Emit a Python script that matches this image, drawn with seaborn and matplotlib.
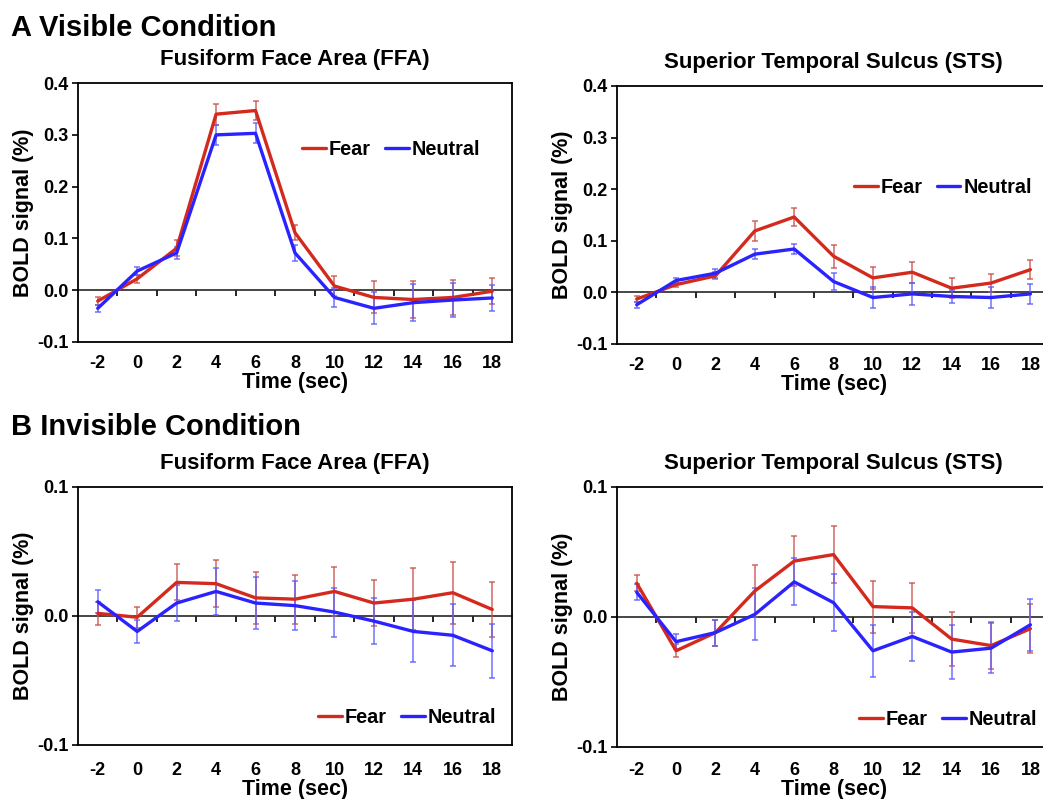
import matplotlib
matplotlib.use('Agg')

import matplotlib.pyplot as plt
import pandas as pd
import seaborn as sns

sns.set_style('white')
plt.rcParams['font.family'] = ['Liberation Sans', 'DejaVu Sans']
plt.rcParams['font.weight'] = 'bold'
plt.rcParams['axes.unicode_minus'] = False
plt.rcParams['text.color'] = 'black'
plt.rcParams['axes.labelcolor'] = 'black'
plt.rcParams['xtick.color'] = 'black'
plt.rcParams['ytick.color'] = 'black'

time = [-2, 0, 2, 4, 6, 8, 10, 12, 14, 16, 18]
conditions = ['Fear', 'Neutral']

# Visible condition, FFA
vis_ffa_fear = [-0.021, 0.022, 0.081, 0.340, 0.347, 0.111, 0.008, -0.014, -0.018, -0.014, -0.002]
vis_ffa_fear_err = [0.008, 0.008, 0.015, 0.020, 0.018, 0.015, 0.020, 0.031, 0.036, 0.033, 0.025]
vis_ffa_neut = [-0.035, 0.037, 0.072, 0.300, 0.303, 0.072, -0.014, -0.035, -0.024, -0.019, -0.015]
vis_ffa_neut_err = [0.007, 0.007, 0.012, 0.019, 0.019, 0.015, 0.019, 0.031, 0.036, 0.032, 0.025]

# Visible condition, STS
vis_sts_fear = [-0.013, 0.015, 0.032, 0.119, 0.146, 0.070, 0.028, 0.039, 0.008, 0.018, 0.044]
vis_sts_fear_err = [0.006, 0.005, 0.007, 0.020, 0.018, 0.022, 0.021, 0.020, 0.019, 0.017, 0.019]
vis_sts_neut = [-0.024, 0.023, 0.037, 0.074, 0.084, 0.021, -0.010, -0.003, -0.008, -0.010, -0.003]
vis_sts_neut_err = [0.006, 0.005, 0.009, 0.010, 0.010, 0.017, 0.020, 0.021, 0.012, 0.020, 0.020]

# Invisible condition, FFA
inv_ffa_fear = [0.002, -0.001, 0.026, 0.025, 0.014, 0.013, 0.019, 0.010, 0.013, 0.018, 0.005]
inv_ffa_fear_err = [0.009, 0.008, 0.014, 0.018, 0.020, 0.019, 0.019, 0.018, 0.024, 0.024, 0.021]
inv_ffa_neut = [0.011, -0.012, 0.010, 0.019, 0.010, 0.008, 0.003, -0.004, -0.012, -0.015, -0.027]
inv_ffa_neut_err = [0.009, 0.009, 0.014, 0.018, 0.020, 0.019, 0.019, 0.018, 0.024, 0.024, 0.021]

# Invisible condition, STS
inv_sts_fear = [0.026, -0.026, -0.012, 0.020, 0.043, 0.048, 0.008, 0.007, -0.017, -0.022, -0.009]
inv_sts_fear_err = [0.006, 0.005, 0.010, 0.020, 0.019, 0.022, 0.020, 0.019, 0.021, 0.018, 0.019]
inv_sts_neut = [0.019, -0.019, -0.012, 0.002, 0.027, 0.011, -0.026, -0.015, -0.027, -0.024, -0.006]
inv_sts_neut_err = [0.006, 0.006, 0.010, 0.020, 0.018, 0.022, 0.020, 0.019, 0.021, 0.019, 0.020]

line_colors = {'Fear': '#d42a1e', 'Neutral': '#2a22ff'}
err_colors = {'Fear': '#c8504a', 'Neutral': '#5a5aff'}

fig = plt.figure(figsize=(10.43, 7.99), dpi=100)

panels = [
    ([0.0748, 0.572, 0.4161, 0.324], 'Fusiform Face Area (FFA)',
     (vis_ffa_fear, vis_ffa_fear_err, vis_ffa_neut, vis_ffa_neut_err),
     (-0.1, 0.4), [-0.1, 0.0, 0.1, 0.2, 0.3, 0.4], (0.516, 0.745), 9.2, 0.5),
    ([0.5916, 0.5695, 0.4152, 0.323], 'Superior Temporal Sulcus (STS)',
     (vis_sts_fear, vis_sts_fear_err, vis_sts_neut, vis_sts_neut_err),
     (-0.1, 0.4), [-0.1, 0.0, 0.1, 0.2, 0.3, 0.4], (0.547, 0.605), 9.2, 0.5),
    ([0.0748, 0.0676, 0.4161, 0.323], 'Fusiform Face Area (FFA)',
     (inv_ffa_fear, inv_ffa_fear_err, inv_ffa_neut, inv_ffa_neut_err),
     (-0.1, 0.1), [-0.1, 0.0, 0.1], (0.553, 0.105), 12, 0),
    ([0.5916, 0.0651, 0.4152, 0.3254], 'Superior Temporal Sulcus (STS)',
     (inv_sts_fear, inv_sts_fear_err, inv_sts_neut, inv_sts_neut_err),
     (-0.1, 0.1), [-0.1, 0.0, 0.1], (0.559, 0.104), 11, 0),
]

for rect, title, series, ylim, yticks, leg_pos, xpad, xlabpad in panels:
    ax = fig.add_axes(rect)
    fear, fear_err, neut, neut_err = series
    df = pd.DataFrame({
        'Time': time * 2,
        'BOLD': fear + neut,
        'err': fear_err + neut_err,
        'Condition': ['Fear'] * len(time) + ['Neutral'] * len(time),
    })
    for cond in conditions:
        sub = df[df['Condition'] == cond]
        ax.errorbar(sub['Time'], sub['BOLD'], yerr=sub['err'], fmt='none',
                    ecolor=err_colors[cond], elinewidth=1.1, capsize=2.5,
                    capthick=1.1, alpha=0.85, zorder=2)
    sns.lineplot(data=df, x='Time', y='BOLD', hue='Condition', palette=line_colors,
                 linewidth=2.4, ax=ax, zorder=3, legend=False)

    ax.set_xlim(-3, 19)
    ax.set_ylim(*ylim)
    ax.set_xticks(time)
    ax.set_xticklabels([str(t) for t in time])
    ax.set_yticks(yticks)
    ax.set_yticklabels(['%.1f' % v for v in yticks])
    ax.tick_params(axis='x', length=0, pad=xpad, labelsize=13)
    ax.tick_params(axis='y', direction='out', length=4, width=1.2, left=True, pad=3, labelsize=13)
    for sp in ax.spines.values():
        sp.set_linewidth(1.3)
        sp.set_color('black')

    # zero line with category-boundary ticks
    frac = (0 - ylim[0]) / (ylim[1] - ylim[0])
    sec = ax.secondary_xaxis(frac)
    sec.set_alignment('bottom')
    sec.set_xticks([t + 1 for t in time[:-1]])
    sec.set_xticklabels([])
    sec.tick_params(direction='out', length=4, width=1.2)
    sec.spines['bottom'].set_linewidth(1.2)

    ax.set_xlabel('Time (sec)', fontsize=15.5, fontweight='bold', labelpad=xlabpad)
    ax.set_ylabel('BOLD signal (%)', fontsize=15.5, fontweight='bold', labelpad=1.8)
    ax.set_title(title, fontsize=16, fontweight='bold', pad=13)

    handles = [plt.Line2D([], [], color=line_colors[c], linewidth=2.4) for c in conditions]
    ax.legend(handles, conditions, loc='center left', bbox_to_anchor=leg_pos, ncol=2,
              frameon=False, handlelength=1.2, handletextpad=0.15,
              columnspacing=0.7, borderpad=0, borderaxespad=0,
              prop={'weight': 'bold', 'size': 14.3})

fig.text(0.011, 0.965, 'A Visible Condition', fontsize=21, fontweight='bold', va='center')
fig.text(0.011, 0.465, 'B Invisible Condition', fontsize=21, fontweight='bold', va='center')

fig.savefig('out.png', dpi=100)
